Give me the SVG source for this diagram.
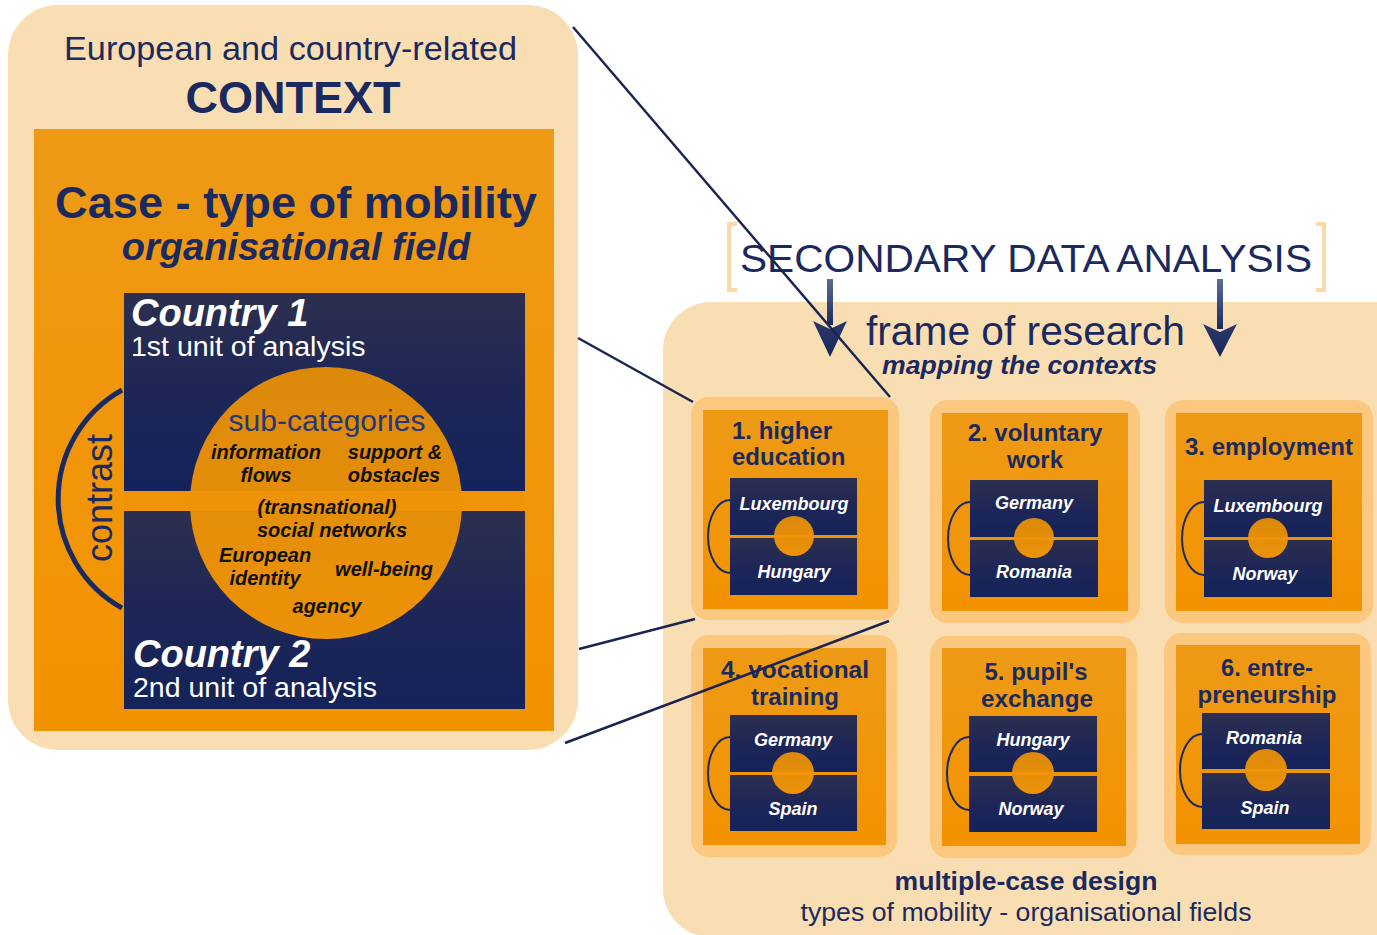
<svg xmlns="http://www.w3.org/2000/svg" width="1377" height="935" viewBox="0 0 1377 935">
  <defs>
    <linearGradient id="orangeFill" x1="0" y1="0" x2="0" y2="1">
      <stop offset="0" stop-color="#ee9a16"/>
      <stop offset="1" stop-color="#f39200"/>
    </linearGradient>
    <linearGradient id="navyFill" x1="0" y1="0" x2="0" y2="1">
      <stop offset="0" stop-color="#2c2f4e"/>
      <stop offset="0.5" stop-color="#1e2657"/>
      <stop offset="1" stop-color="#14235a"/>
    </linearGradient>
    <linearGradient id="hubFill" x1="0" y1="0" x2="0" y2="1">
      <stop offset="0" stop-color="#dc890b"/>
      <stop offset="1" stop-color="#ec9207"/>
    </linearGradient>
    <linearGradient id="shaftFill" x1="0" y1="0" x2="0" y2="1">
      <stop offset="0" stop-color="#5d6b96"/>
      <stop offset="1" stop-color="#1b2a5e"/>
    </linearGradient>
    <linearGradient id="headFill" x1="0" y1="0" x2="0" y2="1">
      <stop offset="0" stop-color="#2b3868"/>
      <stop offset="1" stop-color="#18275c"/>
    </linearGradient>
  </defs>
  <style>
    text { font-family: "Liberation Sans", Arial, sans-serif; }
    .navy { fill: #1b2a5e; }
    .b { font-weight: bold; }
    .i { font-style: italic; }
    .mid { text-anchor: middle; }
    .white { fill: #ffffff; }
    .sub { fill: #111111; font-weight: bold; font-style: italic; font-size: 20px; text-anchor: middle; }
    .panel { fill: #fadeb3; }
    .cardOuter { fill: #fcc77f; }
    .cardInner { fill: url(#orangeFill); }
    .dark { fill: url(#navyFill); }
    .hub { fill: url(#hubFill); }
    .arc { fill: none; stroke: #1b2a5e; }
    .bracket { fill: none; stroke: #fbd9a9; stroke-width: 4; }
    .cardTitle { font-weight: bold; font-size: 24px; fill: #1b2a5e; text-anchor: middle; }
    .country { font-weight: bold; font-style: italic; font-size: 18px; fill: #ffffff; text-anchor: middle; }
    .link { stroke: #1b2550; stroke-width: 2.5; fill: none; }
  </style>

  <!-- context panel on the left -->
  <g id="context">
    <rect class="panel" x="8" y="5" width="570" height="745" rx="50"/>
    <text class="navy" x="64" y="60" font-size="34" textLength="453" lengthAdjust="spacingAndGlyphs">European and country-related</text>
    <text class="navy mid b" x="293" y="113" font-size="45">CONTEXT</text>
  </g>

  <g id="case">
    <rect class="cardInner" x="34" y="129" width="520" height="602"/>
    <text class="navy b" x="55" y="218" font-size="44" textLength="482" lengthAdjust="spacingAndGlyphs">Case - type of mobility</text>
    <text class="navy mid b i" x="296" y="260" font-size="38">organisational field</text>
  </g>

  <g id="country-1">
    <rect class="dark" x="124" y="293" width="401" height="198"/>
    <text class="white b i" x="131" y="326" font-size="38">Country 1</text>
    <text class="white" x="131" y="356" font-size="28.5">1st unit of analysis</text>
  </g>

  <g id="country-2">
    <rect class="dark" x="124" y="511" width="401" height="198"/>
  </g>

  <g id="sub-categories">
    <circle class="hub" cx="326" cy="503" r="136"/>
    <rect x="124" y="491" width="401" height="20" fill="#f09307" opacity="0.85"/>
    <text class="mid" x="327" y="431" font-size="30" fill="#26367a">sub-categories</text>
    <text class="sub" x="266" y="459">information</text>
    <text class="sub" x="266" y="482">flows</text>
    <text class="sub" x="395" y="459">support &amp;</text>
    <text class="sub" x="394" y="482">obstacles</text>
    <text class="sub" x="327" y="514">(transnational)</text>
    <text class="sub" x="332" y="537">social networks</text>
    <text class="sub" x="265" y="562">European</text>
    <text class="sub" x="265" y="585">identity</text>
    <text class="sub" x="384" y="576">well-being</text>
    <text class="sub" x="327" y="613">agency</text>
  </g>

  <g id="country-2-label">
    <text class="white b i" x="133" y="667" font-size="38">Country 2</text>
    <text class="white" x="133" y="697" font-size="28.5">2nd unit of analysis</text>
  </g>

  <g id="contrast">
    <path class="arc" stroke-width="5" d="M122,390 A125,125 0 0 0 122,608"/>
    <text class="navy mid" transform="translate(112,498) rotate(-90)" font-size="36">contrast</text>
  </g>

  <!-- secondary data analysis heading -->
  <g id="secondary">
    <path class="bracket" d="M737,224 H729 V290 H737"/>
    <path class="bracket" d="M1316,224 H1324 V290 H1316"/>
    <text class="navy" x="740" y="272" font-size="38" textLength="572" lengthAdjust="spacingAndGlyphs">SECONDARY DATA ANALYSIS</text>
  </g>

  <!-- research frame on the right -->
  <g id="frame">
    <rect class="panel" x="663" y="302" width="760" height="635" rx="48"/>
    <text class="navy" x="866" y="345" font-size="40" textLength="319" lengthAdjust="spacingAndGlyphs">frame of research</text>
    <text class="navy b i" x="882" y="374" font-size="25" textLength="275" lengthAdjust="spacingAndGlyphs">mapping the contexts</text>
    <text class="navy b mid" x="1026" y="890" font-size="25" textLength="263" lengthAdjust="spacingAndGlyphs">multiple-case design</text>
    <text class="navy mid" x="1026" y="921" font-size="25" textLength="451" lengthAdjust="spacingAndGlyphs">types of mobility - organisational fields</text>
  </g>

  <g id="arrows">
    <rect x="827" y="279" width="6" height="46" fill="url(#shaftFill)"/>
    <path d="M813,321 L830,329 L847,321 L830,357 Z" fill="url(#headFill)"/>
    <rect x="1217" y="279" width="6" height="50" fill="url(#shaftFill)"/>
    <path d="M1203,324 L1220,332 L1237,324 L1220,357 Z" fill="url(#headFill)"/>
  </g>

  <!-- six mobility cases -->
  <g id="case-1" transform="translate(691,397)">
    <rect class="cardOuter" width="208" height="223" rx="18"/>
    <rect class="cardInner" x="12" y="13" width="185" height="199"/>
    <rect class="dark" x="39" y="81" width="127" height="57"/>
    <rect class="dark" x="39" y="141" width="127" height="57"/>
    <circle class="hub" cx="103" cy="139" r="20"/>
    <rect x="39" y="138" width="127" height="3" fill="#f09307"/>
    <path class="arc" stroke-width="2" d="M39,103 A22,36.5 0 0 0 39,176"/>
    <text class="cardTitle" x="41" y="42" style="text-anchor:start">1. higher</text>
    <text class="cardTitle" x="41" y="68" style="text-anchor:start">education</text>
    <text class="country" x="103" y="113">Luxembourg</text>
    <text class="country" x="103" y="181">Hungary</text>
  </g>

  <g id="case-2" transform="translate(930,400)">
    <rect class="cardOuter" width="210" height="223" rx="18"/>
    <rect class="cardInner" x="12" y="13" width="186" height="198"/>
    <rect class="dark" x="40" y="80" width="128" height="57"/>
    <rect class="dark" x="40" y="140" width="128" height="57"/>
    <circle class="hub" cx="104" cy="138" r="20"/>
    <rect x="40" y="137" width="128" height="3" fill="#f09307"/>
    <path class="arc" stroke-width="2" d="M40,102 A22,36.5 0 0 0 40,175"/>
    <text class="cardTitle" x="105" y="41">2. voluntary</text>
    <text class="cardTitle" x="105" y="68">work</text>
    <text class="country" x="104" y="109">Germany</text>
    <text class="country" x="104" y="178">Romania</text>
  </g>

  <g id="case-3" transform="translate(1165,400)">
    <rect class="cardOuter" width="208" height="223" rx="18"/>
    <rect class="cardInner" x="11" y="13" width="186" height="198"/>
    <rect class="dark" x="39" y="80" width="128" height="57"/>
    <rect class="dark" x="39" y="140" width="128" height="57"/>
    <circle class="hub" cx="103" cy="138" r="20"/>
    <rect x="39" y="137" width="128" height="3" fill="#f09307"/>
    <path class="arc" stroke-width="2" d="M39,102 A22,36.5 0 0 0 39,175"/>
    <text class="cardTitle" x="104" y="55">3. employment</text>
    <text class="country" x="103" y="112">Luxembourg</text>
    <text class="country" x="100" y="180">Norway</text>
  </g>

  <g id="case-4" transform="translate(691,635)">
    <rect class="cardOuter" width="206" height="222" rx="18"/>
    <rect class="cardInner" x="12" y="13" width="183" height="197"/>
    <rect class="dark" x="39" y="80" width="127" height="57"/>
    <rect class="dark" x="39" y="140" width="127" height="56"/>
    <circle class="hub" cx="102" cy="138" r="21"/>
    <rect x="39" y="137" width="127" height="3" fill="#f09307"/>
    <path class="arc" stroke-width="2" d="M39,102 A22,36.5 0 0 0 39,175"/>
    <text class="cardTitle" x="104" y="43" font-size="25" textLength="148" lengthAdjust="spacingAndGlyphs">4. vocational</text>
    <text class="cardTitle" x="104" y="70" font-size="25" textLength="88" lengthAdjust="spacingAndGlyphs">training</text>
    <text class="country" x="102" y="111">Germany</text>
    <text class="country" x="102" y="180">Spain</text>
  </g>

  <g id="case-5" transform="translate(930,636)">
    <rect class="cardOuter" width="207" height="222" rx="18"/>
    <rect class="cardInner" x="12" y="12" width="184" height="198"/>
    <rect class="dark" x="39" y="80" width="128" height="57"/>
    <rect class="dark" x="39" y="140" width="128" height="56"/>
    <circle class="hub" cx="103" cy="137" r="21"/>
    <rect x="39" y="136" width="128" height="3" fill="#f09307"/>
    <path class="arc" stroke-width="2" d="M39,101 A22,36.5 0 0 0 39,174"/>
    <text class="cardTitle" x="106" y="44" font-size="25" textLength="103" lengthAdjust="spacingAndGlyphs">5. pupil's</text>
    <text class="cardTitle" x="107" y="71" font-size="25" textLength="112" lengthAdjust="spacingAndGlyphs">exchange</text>
    <text class="country" x="103" y="110">Hungary</text>
    <text class="country" x="101" y="179">Norway</text>
  </g>

  <g id="case-6" transform="translate(1164,633)">
    <rect class="cardOuter" width="207" height="222" rx="18"/>
    <rect class="cardInner" x="12" y="12" width="184" height="199"/>
    <rect class="dark" x="38" y="80" width="128" height="57"/>
    <rect class="dark" x="38" y="140" width="128" height="56"/>
    <circle class="hub" cx="102" cy="137" r="21"/>
    <rect x="38" y="136" width="128" height="3" fill="#f09307"/>
    <path class="arc" stroke-width="2" d="M38,101 A22,36.5 0 0 0 38,174"/>
    <text class="cardTitle" x="103" y="43" font-size="25" textLength="92" lengthAdjust="spacingAndGlyphs">6. entre-</text>
    <text class="cardTitle" x="103" y="70" font-size="25" textLength="139" lengthAdjust="spacingAndGlyphs">preneurship</text>
    <text class="country" x="100" y="111">Romania</text>
    <text class="country" x="101" y="181">Spain</text>
  </g>

  <!-- zoom lines from the context panel to the first cases -->
  <g id="connectors">
    <line class="link" x1="573" y1="27" x2="890" y2="397"/>
    <line class="link" x1="578" y1="338" x2="693" y2="402"/>
    <line class="link" x1="579" y1="649" x2="695" y2="619"/>
    <line class="link" x1="565" y1="743" x2="889" y2="621"/>
  </g>
</svg>
